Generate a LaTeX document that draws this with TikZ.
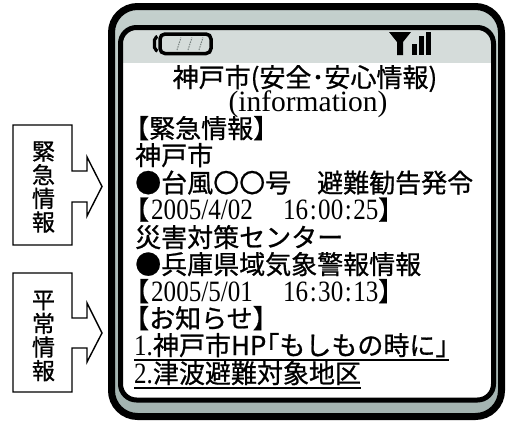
\documentclass[tikz,border=0pt]{standalone}
\usepackage{fontspec}
\setmainfont{Liberation Serif}
\newfontfamily\cjk[FakeBold=0.8]{Noto Sans CJK JP}
\newfontfamily\datefont[FakeStretch=0.85]{Liberation Serif}
\newcommand\tcolon{\kern1.5pt:\kern1.5pt}
\definecolor{frameTop}{RGB}{196,208,205}
\definecolor{frameBot}{RGB}{163,179,176}
\definecolor{statusGrey}{RGB}{213,220,218}
\definecolor{battGrey}{RGB}{120,130,128}
\begin{document}
\begin{tikzpicture}[x=1pt,y=-1pt,
  jp/.style={font=\cjk\fontsize{26}{26}\selectfont, inner sep=0pt, anchor=base west},
  dt/.style={font=\datefont\fontsize{29.5}{29.5}\selectfont, inner sep=0pt, anchor=base west},
  side/.style={font=\cjk\fontsize{23}{23.6}\selectfont, inner sep=0pt, align=center},
  tagbox/.style={draw=black, line width=1.4pt, line join=miter},
  uline/.style={draw=black, line width=1.6pt}]
\useasboundingbox (0,0) rectangle (512,421);
% phone frame
\path[draw=black, line width=7pt, rounded corners=26pt, top color=frameTop, bottom color=frameBot]
  (111.5,6.5) rectangle (501.5,416.5);
\path[fill=white, rounded corners=16pt] (120.5,27.5) rectangle (493.5,400);
\begin{scope}
  \clip[rounded corners=16pt] (120.5,27.5) rectangle (493.5,400);
  \fill[statusGrey] (118,25) rectangle (496,63);
\end{scope}
\path[draw=black, line width=5pt, rounded corners=16pt] (120.5,27.5) rectangle (493.5,400);
% battery
\draw[line width=3.5pt, rounded corners=5pt] (160,34) rectangle (211,53.5);
\draw[line width=3.2pt, rounded corners=2pt] (157.5,36.5) -- (154.5,38) -- (154.5,49.5) -- (157.5,51);
\foreach \bx in {177,188,199}
  \draw[battGrey, line width=1pt, dash pattern=on 1.5pt off 1pt] (\bx,50) -- (\bx+4,37.5);
% signal
\fill (389,32) -- (411,32) -- (403,42) -- (403,55) -- (397,55) -- (397,42) -- cycle;
\fill (412,44) rectangle (417,55);
\fill (419,36) rectangle (424,55);
\fill (426,32) rectangle (431,55);
% screen texts
\node[jp, anchor=base] (title) at (305,87) {神戸市(安全･安心情報)};
\node[font=\fontsize{29.5}{29.5}\selectfont, inner sep=0pt, anchor=base] (info) at (308,111.5) {(information)};
\node[jp] (kinkyu) at (123,138) {【緊急情報】};
\node[jp] (kobe) at (135,165) {神戸市};
\node[jp] (taifu) at (135,192.5) {●台風〇〇号　避難勧告発令};
\node[jp] (d1a) at (123,219.5) {【};
\node[dt] (d1b) at (151,219.5) {2005/4/02};
\node[dt] (d1c) at (283,219.5) {16\tcolon 00\tcolon 25};
\node[jp] (d1d) at (378,219.5) {】};
\node[jp] (saigai) at (135,247) {災害対策センター};
\node[jp] (hyogo) at (135,274) {●兵庫県域気象警報情報};
\node[jp] (d2a) at (123,301) {【};
\node[dt] (d2b) at (151,301) {2005/5/01};
\node[dt] (d2c) at (283,301) {16\tcolon 30\tcolon 13};
\node[jp] (d2d) at (378,301) {】};
\node[jp] (oshirase) at (123,328) {【お知らせ】};
\node[jp] (link1) at (134,355) {{\datefont\fontsize{29.5}{29.5}\selectfont 1.}神戸市HP｢もしもの時に｣};
\node[jp] (link2) at (134,383) {{\datefont\fontsize{29.5}{29.5}\selectfont 2.}津波避難対象地区};
\draw[uline] ([yshift=-2.5pt]link1.south west) -- ([yshift=-2.5pt]link1.south east);
\draw[uline] ([yshift=-2.5pt]link2.south west) -- ([yshift=-2.5pt]link2.south east);
% side tags
\draw[tagbox] (13,125) -- (72,125) -- (72,171) -- (87,171) -- (87,157) -- (102,186.5)
  -- (87,216) -- (87,202) -- (72,202) -- (72,245) -- (13,245) -- cycle;
\draw[tagbox] (13,273) -- (72,273) -- (72,318) -- (87,318) -- (87,303) -- (102,333)
  -- (87,362) -- (87,348) -- (72,348) -- (72,392) -- (13,392) -- cycle;
\node[side] (tag1) at (43.5,187) {緊\\急\\情\\報};
\node[side] (tag2) at (43.5,336) {平\\常\\情\\報};
\end{tikzpicture}
\end{document}
